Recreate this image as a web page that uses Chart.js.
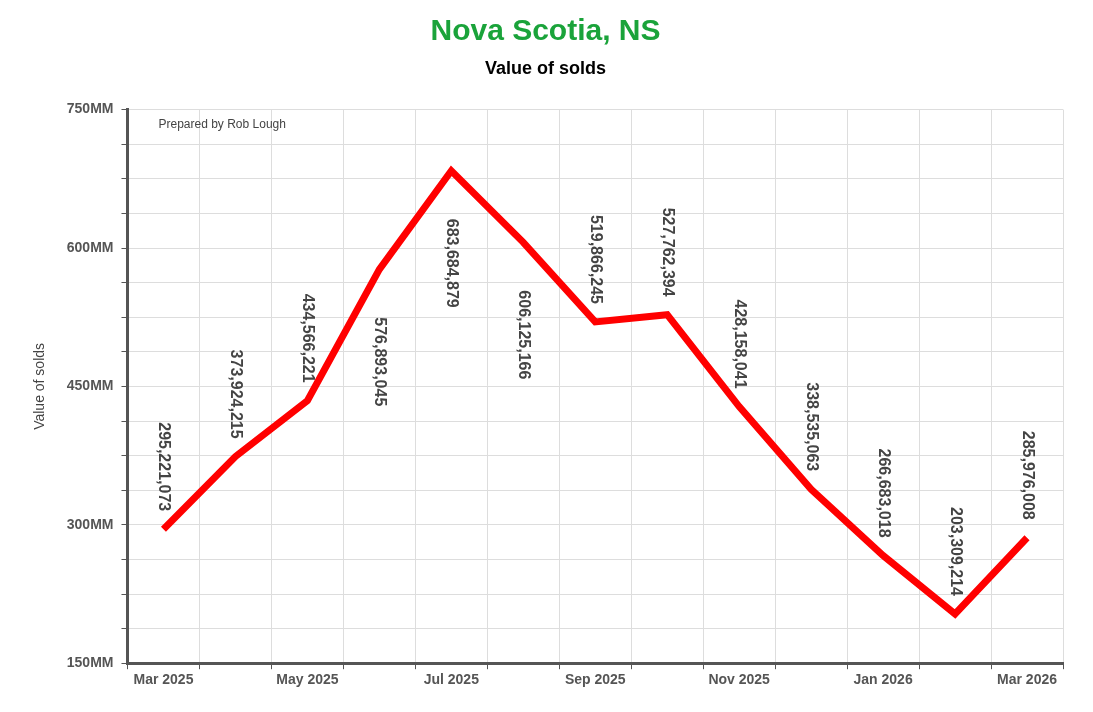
<!DOCTYPE html>
<html><head><meta charset="utf-8">
<script src="https://cdn.jsdelivr.net/npm/chart.js@4"></script>
<style>body{margin:0;background:#fff;font-family:Arial,"Liberation Sans",sans-serif}#wrap{width:1093px;height:712px}</style>
</head><body><div id="wrap"><canvas id="c"></canvas></div>
<script>
const months = ['Mar 2025','Apr 2025','May 2025','Jun 2025','Jul 2025','Aug 2025','Sep 2025','Oct 2025','Nov 2025','Dec 2025','Jan 2026','Feb 2026','Mar 2026'];
const solds = [295221073,373924215,434566221,576893045,683684879,606125166,519866245,527762394,428158041,338535063,266683018,203309214,285976008];
const labelAbove = [true,true,true,false,false,false,true,true,true,true,true,true,true];

const FONT = 'Arial, "Liberation Sans", sans-serif';

const labelPlugin = {
    id: 'valueLabels',
    afterDatasetsDraw(chart) {
        const ctx = chart.ctx;
        const meta = chart.getDatasetMeta(0);
        ctx.save();
        ctx.font = 'bold 16px ' + FONT;
        ctx.fillStyle = '#444';
        ctx.textBaseline = 'middle';
        meta.data.forEach((pt, i) => {
            const txt = solds[i].toLocaleString('en-US');
            const w = ctx.measureText(txt).width;
            ctx.save();
            ctx.translate(pt.x, pt.y);
            ctx.rotate(Math.PI / 2);
            ctx.textAlign = 'left';
            ctx.fillText(txt, labelAbove[i] ? -(w + 18) : 48, 0);
            ctx.restore();
        });
        // watermark
        const a = chart.chartArea;
        ctx.font = '12px ' + FONT;
        ctx.fillStyle = '#444';
        ctx.textAlign = 'left';
        ctx.fillText('Prepared by Rob Lough', a.left + 31, a.top + 15);
        ctx.restore();
    }
};

new Chart(document.getElementById('c'), {
    type: 'line',
    data: {
        labels: months,
        datasets: [{
            data: solds,
            borderColor: '#f00',
            borderWidth: 7,
            pointRadius: 0,
            tension: 0,
            borderJoinStyle: 'miter'
        }]
    },
    options: {
        responsive: true,
        maintainAspectRatio: false,
        animation: false,
        layout: { padding: { left: 28, right: 30, top: 10, bottom: 20 } },
        plugins: {
            legend: { display: false },
            tooltip: { enabled: false },
            title: { display: true, text: 'Nova Scotia, NS', color: '#1aa33a', font: { family: FONT, size: 30, weight: 'bold' }, padding: { top: 4, bottom: 8 } },
            subtitle: { display: true, text: 'Value of solds', color: '#000', font: { family: FONT, size: 18, weight: 'bold' }, padding: { bottom: 30 } }
        },
        scales: {
            x: {
                offset: true,
                grid: { offset: true, color: '#ddd', drawTicks: true, tickLength: 6, tickColor: '#555' },
                border: { color: '#555', width: 3 },
                ticks: {
                    autoSkip: false, maxRotation: 0, color: '#555',
                    font: { family: FONT, size: 14, weight: 'bold' },
                    callback: (v, i) => i % 2 === 0 ? months[i] : ''
                }
            },
            y: {
                min: 150000000, max: 750000000,
                title: { display: true, text: 'Value of solds', color: '#444', font: { family: FONT, size: 14 }, padding: { bottom: 10 } },
                grid: { color: '#ddd', tickLength: 6, tickColor: '#555' },
                border: { color: '#555', width: 3 },
                ticks: {
                    stepSize: 37500000, autoSkip: false, color: '#555', padding: 8,
                    font: { family: FONT, size: 14, weight: 'bold' },
                    callback: v => (v % 150000000 === 0) ? (v / 1e6) + 'MM' : ''
                }
            }
        }
    },
    plugins: [labelPlugin]
});
</script></body></html>
